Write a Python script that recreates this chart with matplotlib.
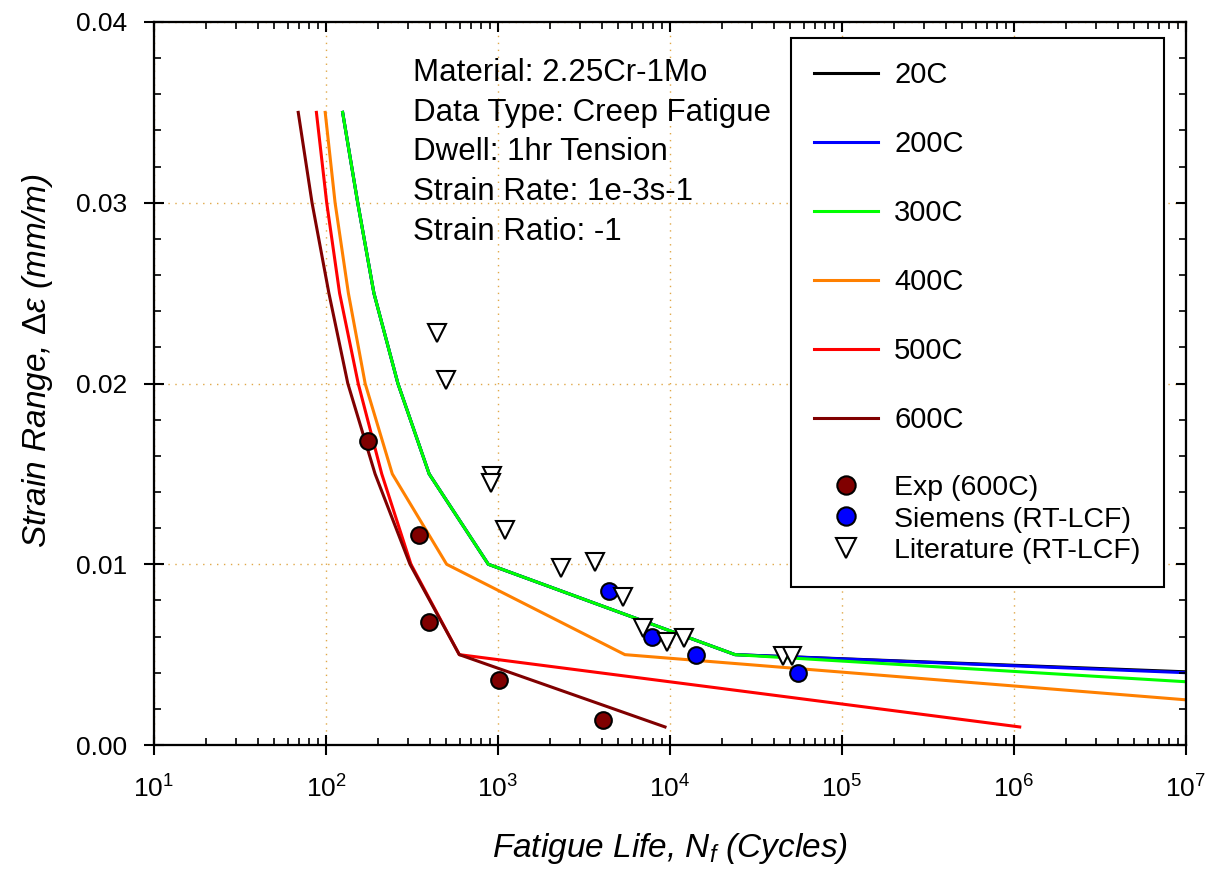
import matplotlib
matplotlib.use('Agg')
import matplotlib.pyplot as plt
import matplotlib.ticker as ticker
from matplotlib.lines import Line2D

plt.rcParams['font.family'] = ['Liberation Sans', 'DejaVu Sans']
plt.rcParams['mathtext.fontset'] = 'custom'
plt.rcParams['mathtext.rm'] = 'Liberation Sans'
plt.rcParams['mathtext.it'] = 'Liberation Sans:italic'

# model curves: cycles to failure vs strain range
eps_hi = [0.035, 0.03, 0.025, 0.02, 0.015, 0.01, 0.005]

n_20c = [125, 153, 190, 262, 398, 879, 23900, 1e7]
e_20c = eps_hi + [0.00405]
n_200c = [125, 153, 190, 262, 398, 879, 23900, 1e7]
e_200c = eps_hi + [0.004]
n_300c = [125, 153, 190, 262, 398, 879, 23900, 1e7]
e_300c = eps_hi + [0.0035]
n_400c = [99, 113, 135, 169, 243, 503, 5470, 1e7]
e_400c = eps_hi + [0.0025]
n_500c = [88, 101, 120, 154, 211, 312, 596, 1.08e6]
e_500c = eps_hi + [0.001]
n_600c = [69, 83, 104, 134, 193, 308, 596, 9360]
e_600c = eps_hi + [0.001]

# test data
exp_n = [176, 348, 395, 1014, 4060]
exp_e = [0.0168, 0.0116, 0.0068, 0.0036, 0.0014]
siemens_n = [4436, 7890, 14100, 55200]
siemens_e = [0.0085, 0.0060, 0.0050, 0.0040]
lit_n = [440, 499, 923, 910, 1102, 2317, 3650, 5360, 6930, 9570, 12100, 45200, 51000]
lit_e = [0.0228, 0.0202, 0.0149, 0.0145, 0.0119, 0.0098, 0.0101, 0.0082, 0.0065,
         0.0057, 0.0059, 0.0049, 0.0049]

info = ['Material: 2.25Cr-1Mo', 'Data Type: Creep Fatigue', 'Dwell: 1hr Tension',
        'Strain Rate: 1e-3s-1', 'Strain Ratio: -1']

fig = plt.figure(figsize=(12.18, 8.73), dpi=100)
ax = fig.add_axes([0.1264, 0.1466, 0.8473, 0.8282])

lw = 2.2
l20, = ax.plot(n_20c, e_20c, color='black', lw=lw, label='20C')
l200, = ax.plot(n_200c, e_200c, color='#0000ff', lw=lw, label='200C')
l300, = ax.plot(n_300c, e_300c, color='#00ff00', lw=lw, label='300C')
l400, = ax.plot(n_400c, e_400c, color='#ff8000', lw=lw, label='400C')
l500, = ax.plot(n_500c, e_500c, color='#ff0000', lw=lw, label='500C')
l600, = ax.plot(n_600c, e_600c, color='#800000', lw=lw, label='600C')

p1, = ax.plot(exp_n, exp_e, 'o', ms=12, mfc='#800000', mec='black', mew=1.5, label='Exp (600C)')
p2, = ax.plot(siemens_n, siemens_e, 'o', ms=12, mfc='#0000ff', mec='black', mew=1.5,
              label='Siemens (RT-LCF)')
p3, = ax.plot(lit_n, lit_e, 'v', ms=12.5, mfc='white', mec='black', mew=1.5,
              label='Literature (RT-LCF)')

ax.set_xscale('log')
ax.set_xlim(10, 1e7)
ax.set_ylim(0, 0.04)
ax.xaxis.set_major_locator(ticker.LogLocator(base=10, numticks=10))
ax.xaxis.set_minor_locator(ticker.LogLocator(base=10, subs=range(2, 10), numticks=100))
ax.xaxis.set_minor_formatter(ticker.NullFormatter())
ax.yaxis.set_major_locator(ticker.MultipleLocator(0.01))
ax.yaxis.set_minor_locator(ticker.MultipleLocator(0.002))
ax.yaxis.set_major_formatter(ticker.FormatStrFormatter('%.2f'))

ax.grid(True, which='major', color='#e0a848', linestyle=(0, (1, 4)), lw=1.0)

for s in ax.spines.values():
    s.set_linewidth(1.5)
ax.tick_params(which='major', direction='inout', length=14, width=1.5, labelsize=19)
ax.tick_params(axis='x', which='major', pad=15)
ax.tick_params(axis='y', which='major', pad=12)
ax.tick_params(which='minor', direction='in', length=5, width=1.2)

# top / right ticks pointing inward
axr = ax.twinx()
axr.set_ylim(ax.get_ylim())
axr.yaxis.set_major_locator(ticker.MultipleLocator(0.01))
axr.yaxis.set_minor_locator(ticker.MultipleLocator(0.002))
axr.tick_params(which='major', direction='in', length=7, width=1.5, labelright=False)
axr.tick_params(which='minor', direction='in', length=5, width=1.2)
axt = ax.twiny()
axt.set_xscale('log')
axt.set_xlim(ax.get_xlim())
axt.xaxis.set_major_locator(ticker.LogLocator(base=10, numticks=10))
axt.xaxis.set_minor_locator(ticker.LogLocator(base=10, subs=range(2, 10), numticks=100))
axt.xaxis.set_minor_formatter(ticker.NullFormatter())
axt.tick_params(which='major', direction='in', length=7, width=1.5, labeltop=False)
axt.tick_params(which='minor', direction='in', length=5, width=1.2, labeltop=False)
for a in (axr, axt):
    for s in a.spines.values():
        s.set_linewidth(1.5)

ax.set_xlabel('Fatigue Life, $N_f$ (Cycles)', fontsize=24, style='italic')
ax.set_ylabel(r'Strain Range, $\mathit{\Delta\varepsilon}$ (mm/m)', fontsize=24, style='italic')
ax.xaxis.set_label_coords(0.5, -0.119)
ax.yaxis.set_label_coords(-0.096, 0.532)

ax.text(0.251, 0.950, '\n'.join(info), transform=ax.transAxes, fontsize=22.5,
        va='top', ha='left', linespacing=1.42)

blank = Line2D([], [], color='none')
handles = [l20, blank, l200, blank, l300, blank, l400, blank, l500, blank, l600, blank, p1, p2, p3]
labels = ['20C', ' ', '200C', ' ', '300C', ' ', '400C', ' ', '500C', ' ', '600C', ' ',
          'Exp (600C)', 'Siemens (RT-LCF)', 'Literature (RT-LCF)']
leg = axt.legend(handles, labels, loc='upper left', bbox_to_anchor=(0.617, 0.978),
                 bbox_transform=ax.transAxes, fontsize=21, frameon=True, fancybox=False,
                 framealpha=1, edgecolor='black', handlelength=2.2, handletextpad=0.55,
                 borderpad=0.8, labelspacing=0.17, borderaxespad=0, markerscale=1.1)
leg.get_frame().set_linewidth(1.5)
for i, t in enumerate(leg.get_texts()):
    if i >= 12:
        t.set_fontsize(20.5)
    elif i % 2 == 1:
        t.set_fontsize(24.5)

fig.savefig('out.png', dpi=100)
